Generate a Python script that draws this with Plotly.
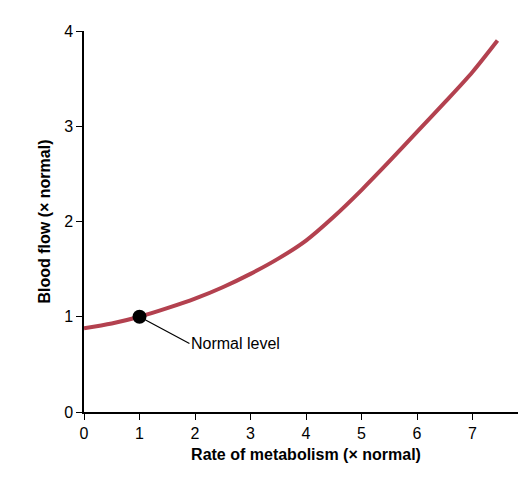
import plotly.graph_objects as go

metabolism = [0, 0.5, 1, 1.5, 2, 2.5, 3, 3.5, 4, 4.5, 5, 5.5, 6, 6.5, 7, 7.45]
blood_flow = [0.88, 0.93, 1.0, 1.09, 1.19, 1.31, 1.45, 1.61, 1.8, 2.05, 2.33, 2.63, 2.94, 3.25, 3.57, 3.9]
normal_x = [1]
normal_y = [1]

fig = go.Figure()

fig.add_trace(go.Scatter(
    x=metabolism, y=blood_flow, mode="lines",
    line=dict(color="#b3414f", width=4, shape="spline", smoothing=0.8),
    showlegend=False, cliponaxis=False,
))

fig.add_trace(go.Scatter(
    x=normal_x, y=normal_y, mode="markers",
    marker=dict(color="black", size=14),
    showlegend=False,
))

fig.add_annotation(
    x=1, y=1, text="Normal level",
    axref="x", ayref="y", ax=1.9, ay=0.72,
    xanchor="left", showarrow=True, arrowhead=0, arrowwidth=1.2,
    arrowcolor="black", font=dict(size=16, color="black"),
)

axis_style = dict(
    showline=True, linecolor="black", linewidth=1.5,
    ticks="outside", ticklen=6, tickcolor="black",
    showgrid=False, zeroline=False, automargin=False,
    tickfont=dict(size=16, color="black"),
)

fig.update_xaxes(
    range=[0, 8], tickvals=[0, 1, 2, 3, 4, 5, 6, 7, 8], **axis_style,
    title=dict(text="<b>Rate of metabolism (× normal)</b>", font=dict(size=16, color="black"), standoff=8),
)
fig.update_yaxes(
    range=[0, 4], dtick=1, **axis_style,
    title=dict(text="<b>Blood flow (× normal)</b>", font=dict(size=16, color="black"), standoff=10),
)

fig.update_layout(
    width=526, height=481,
    margin=dict(l=76, r=6, t=23, b=77),
    plot_bgcolor="white", paper_bgcolor="white",
    font=dict(family="Liberation Sans, Arial, sans-serif"),
)

fig.write_html("out.html")
